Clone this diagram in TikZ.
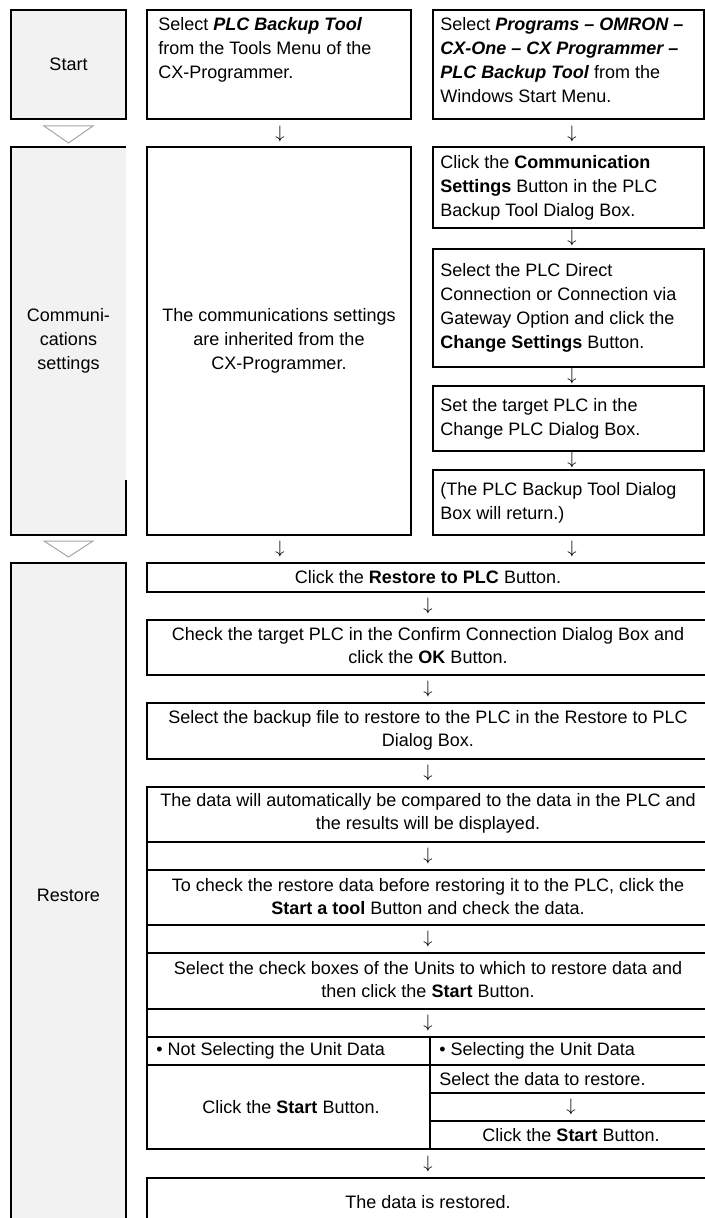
\documentclass[tikz,border=0pt]{standalone}
\usepackage{fontspec}
\setmainfont{Liberation Sans}
\usetikzlibrary{positioning}
\definecolor{labelgray}{HTML}{F2F2F2}
\definecolor{markgray}{HTML}{A6A6A6}
\tikzset{
  cellline/.style={line width=0.6pt},
  labelcell/.style={cellline, fill=labelgray},
  txt/.style={inner sep=0pt, font=\fontsize{9}{12}\selectfont},
  ctxt/.style={txt, align=center},
  ltxt/.style={txt, align=left, anchor=west},
  rtxt/.style={ctxt, font=\fontsize{9}{11.5}\selectfont},
  darr/.style={txt},
  stagemark/.style={draw=markgray, fill=white, line width=0.5pt},
}
\begin{document}
\begin{tikzpicture}[x=0.5pt,y=-0.5pt]
\useasboundingbox (0,0) rectangle (705,1218);
% stage column
\draw[labelcell] (11,10) rectangle (126,119);
\node[ctxt] (start) at (68.5,64.5) {Start};
\draw[stagemark] (44,126) -- (93,126) -- (68.5,143) -- cycle;
\fill[labelgray] (11,147) rectangle (126,535);
\draw[cellline] (126,480) -- (126,535) -- (11,535) -- (11,147) -- (126,147);
\node[ctxt] (comm) at (68.5,341) {Communi-\\cations\\settings};
\draw[stagemark] (44,541) -- (93,541) -- (68.5,557) -- cycle;
\draw[labelcell] (11,563) rectangle (126,1228);
\node[ctxt] (restore) at (68.5,895) {Restore};
% start row
\draw[cellline] (147,10) rectangle (411,119);
\node[ltxt, anchor=north west] (selmenu) at (158,17) {Select \textbf{\textit{PLC Backup Tool}}\\from the Tools Menu of the\\CX-Programmer.};
\draw[cellline] (433,10) rectangle (704,119);
\node[ltxt, anchor=north west] (selwin) at (440,17) {Select \textbf{\textit{Programs – OMRON –}}\\\textbf{\textit{CX-One – CX Programmer –}}\\\textbf{\textit{PLC Backup Tool}} from the\\Windows Start Menu.};
\node[darr] (a1) at (280,134) {$\downarrow$};
\node[darr] (a2) at (572,134) {$\downarrow$};
% communications settings
\draw[cellline] (147,147) rectangle (411,535);
\node[ctxt] (inherit) at (279,341) {The communications settings\\are inherited from the\\CX-Programmer.};
\draw[cellline] (433,147) rectangle (704,228);
\node[ltxt] (commbtn) at (440,187.5) {Click the \textbf{Communication}\\\textbf{Settings} Button in the PLC\\Backup Tool Dialog Box.};
\node[darr] (a3) at (572,238.5) {$\downarrow$};
\draw[cellline] (433,249) rectangle (704,367);
\node[ltxt] (direct) at (440,308) {Select the PLC Direct\\Connection or Connection via\\Gateway Option and click the\\\textbf{Change Settings} Button.};
\node[darr] (a4) at (572,376.5) {$\downarrow$};
\draw[cellline] (433,386) rectangle (704,451);
\node[ltxt] (target) at (440,418.5) {Set the target PLC in the\\Change PLC Dialog Box.};
\node[darr] (a5) at (572,460.5) {$\downarrow$};
\draw[cellline] (433,470) rectangle (704,535);
\node[ltxt] (return) at (440,502.5) {(The PLC Backup Tool Dialog\\Box will return.)};
\node[darr] (a6) at (280,549) {$\downarrow$};
\node[darr] (a7) at (572,549) {$\downarrow$};
% restore
\draw[cellline] (147,563) rectangle (711,592);
\node[rtxt] (rbtn) at (428,577.5) {Click the \textbf{Restore to PLC} Button.};
\node[darr] (a8) at (428,606) {$\downarrow$};
\draw[cellline] (147,620) rectangle (711,675);
\node[rtxt] (confirm) at (428,646) {Check the target PLC in the Confirm Connection Dialog Box and\\click the \textbf{OK} Button.};
\node[darr] (a9) at (428,689) {$\downarrow$};
\draw[cellline] (147,703) rectangle (711,759);
\node[rtxt] (bfile) at (428,730) {Select the backup file to restore to the PLC in the Restore to PLC\\Dialog Box.};
\node[darr] (a10) at (428,773) {$\downarrow$};
\draw[cellline] (147,787) rectangle (711,842);
\node[rtxt] (compare) at (428,813.5) {The data will automatically be compared to the data in the PLC and\\the results will be displayed.};
\draw[cellline] (147,842) rectangle (711,870);
\node[darr] (a11) at (428,856) {$\downarrow$};
\draw[cellline] (147,870) rectangle (711,925);
\node[rtxt] (tool) at (428,896.5) {To check the restore data before restoring it to the PLC, click the\\\textbf{Start a tool} Button and check the data.};
\draw[cellline] (147,925) rectangle (711,953);
\node[darr] (a12) at (428,939) {$\downarrow$};
\draw[cellline] (147,953) rectangle (711,1009);
\node[rtxt] (units) at (428,980) {Select the check boxes of the Units to which to restore data and\\then click the \textbf{Start} Button.};
\draw[cellline] (147,1009) rectangle (711,1037);
\node[darr] (a13) at (428,1023) {$\downarrow$};
% unit data choice
\draw[cellline] (147,1037) rectangle (711,1149);
\draw[cellline] (430,1037) -- (430,1149);
\draw[cellline] (147,1065) -- (711,1065);
\draw[cellline] (430,1093) -- (711,1093) (430,1121) -- (711,1121);
\node[ltxt] (notsel) at (156,1051) {• Not Selecting the Unit Data};
\node[ctxt] (startl) at (291,1107) {Click the \textbf{Start} Button.};
\node[ltxt] (sel) at (439,1051) {• Selecting the Unit Data};
\node[ltxt] (seldata) at (439,1079) {Select the data to restore.};
\node[darr] (a14) at (571,1107) {$\downarrow$};
\node[ctxt] (startr) at (571,1135) {Click the \textbf{Start} Button.};
\node[darr] (a15) at (428,1163.5) {$\downarrow$};
\draw[cellline] (147,1178) rectangle (711,1228);
\node[ctxt] (done) at (428,1202) {The data is restored.};
\end{tikzpicture}
\end{document}
